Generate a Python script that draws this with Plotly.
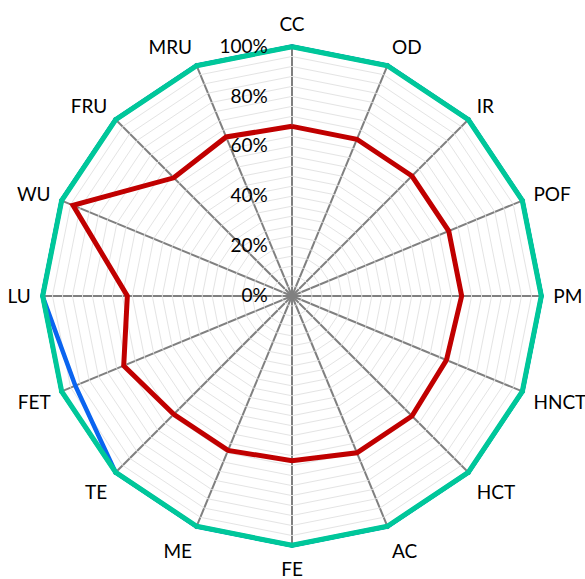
import plotly.graph_objects as go

categories = ["CC", "OD", "IR", "POF", "PM", "HNCT", "HCT", "AC", "FE", "ME",
              "TE", "FET", "LU", "WU", "FRU", "MRU"]
blue_values = [100, 100, 100, 100, 100, 100, 100, 100, 100, 100,
               100, 94, 100, 100, 100, 100]
teal_values = [100] * 16
red_values = [68, 68, 68, 68, 68, 67, 68, 68, 66, 67,
              67, 73, 66, 95, 67, 69]
tick_vals = list(range(0, 101, 4))
tick_text = [f"{v}%" if v % 20 == 0 else "" for v in tick_vals]

def closed(a):
    return list(a) + [a[0]]

theta = closed(categories)
fig = go.Figure()
fig.add_trace(go.Scatterpolar(r=closed(blue_values), theta=theta, mode="lines",
                              line=dict(color="#0A64F0", width=4.5), showlegend=False,
                              cliponaxis=False))
fig.add_trace(go.Scatterpolar(r=closed(teal_values), theta=theta, mode="lines",
                              line=dict(color="#00C79A", width=5.5), showlegend=False,
                              cliponaxis=False))
fig.add_trace(go.Scatterpolar(r=closed(red_values), theta=theta, mode="lines",
                              line=dict(color="#C00000", width=5), showlegend=False,
                              cliponaxis=False))

fig.update_layout(
    width=585, height=579,
    margin=dict(l=39.5, r=40.5, t=43.5, b=30.5),
    paper_bgcolor="white",
    font=dict(family="Lato, Carlito, Calibri, sans-serif", size=19, color="black"),
    polar=dict(
        bgcolor="white",
        gridshape="linear",
        radialaxis=dict(range=[0, 101], tickvals=tick_vals, ticktext=tick_text,
                        angle=90, tickangle=90, side="counterclockwise",
                        showline=False, ticks="outside", ticklen=17,
                        tickcolor="rgba(0,0,0,0)", gridcolor="#E4E4E4", gridwidth=1,
                        tickfont=dict(size=19)),
        angularaxis=dict(direction="clockwise", rotation=90, gridcolor="#808080",
                         gridwidth=1.5, showline=False, ticks="outside", ticklen=5,
                         tickcolor="rgba(0,0,0,0)",
                         tickfont=dict(size=19)),
    ),
)
fig.write_html("out.html",
               config={"displayModeBar": False},
               post_script="document.body.style.margin='0';document.body.style.overflow='hidden';")
